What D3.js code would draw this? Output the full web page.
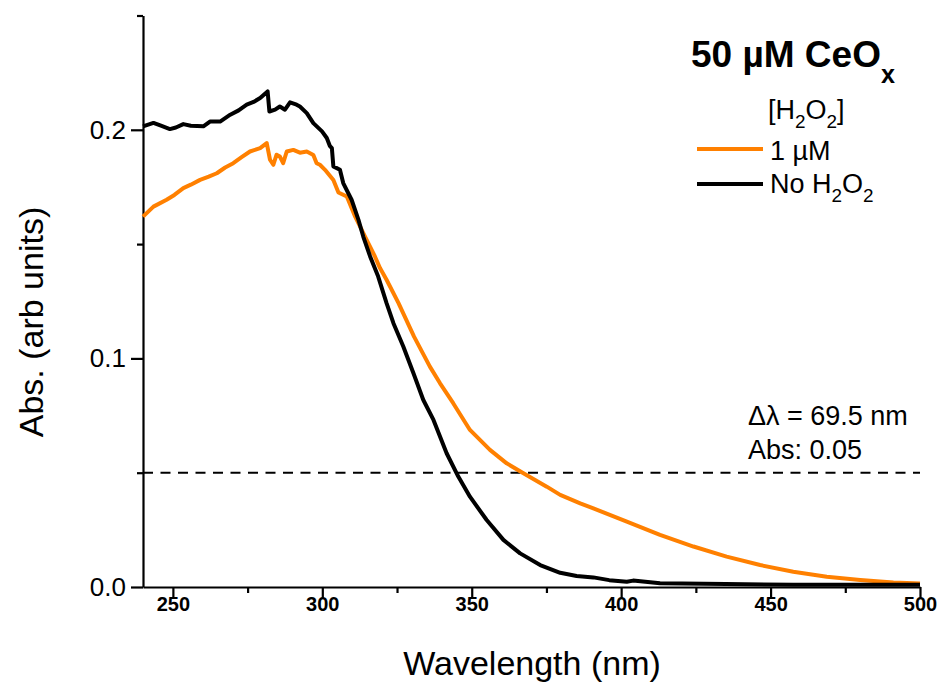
<!DOCTYPE html>
<html lang="en">
<head>
  <meta charset="UTF-8" />
  <title>Abs spectra CeOx</title>
  <script src="https://d3js.org/d3.v7.min.js"></script>
  <style>
    body { margin:0; padding:0; background:#fff; }
    svg { display:block; font-family:"Liberation Sans", Arial, sans-serif; }
    .axis path, .axis line { stroke:#000; stroke-width:2.2px; }
  </style>
</head>
<body>
  <svg width="941" height="684"></svg>

  <script>
  // data: [wavelength (nm), absorbance]
  const noH2O2 = [
    [240,0.2015],[243.5,0.203],[246,0.2018],[249,0.2003],[251,0.201],[253.5,0.2025],
    [256,0.2018],[260.2,0.2015],[262.4,0.2036],[265.8,0.2036],[269.2,0.2066],[272,0.2085],
    [274.7,0.211],[277,0.2122],[279.2,0.2139],[281.7,0.2168],[282.3,0.208],[284.2,0.2088],
    [285.8,0.2102],[287.5,0.2088],[289.2,0.212],[291.4,0.211],[292.5,0.2102],[294.8,0.2073],
    [297,0.2029],[299.9,0.1993],[301.5,0.1964],[302.5,0.193],[303.2,0.192],[303.7,0.184],
    [305.9,0.1825],[307,0.1767],[309.8,0.1694],[312.1,0.1606],[313.7,0.1533],[316,0.1446],
    [318.7,0.1358],[321.5,0.1242],[323.8,0.1154],[327.1,0.1052],[330.5,0.0935],[333.8,0.0818],
    [337.2,0.0731],[341.6,0.0585],[345.5,0.0483],[349.4,0.0395],[355,0.0293],[360.6,0.0206],
    [366.2,0.0147],[372.9,0.0096],[379.6,0.0062],[385.1,0.0048],[390.7,0.0042],[396,0.003],
    [401.9,0.0023],[404,0.0028],[413,0.0016],[435,0.0013],[457.6,0.001],[480,0.001],[500,0.001]
  ];
  const oneMicroM = [
    [240,0.162],[243.5,0.1664],[247.9,0.1694],[250.5,0.1715],[253.5,0.1745],[256,0.176],
    [259.1,0.1781],[262,0.1795],[264.7,0.181],[267.5,0.1835],[270.2,0.1854],[273,0.188],
    [275.8,0.1905],[279.2,0.192],[281.4,0.1942],[282.5,0.1869],[283.6,0.1847],[284.7,0.1891],
    [285.8,0.1883],[286.9,0.1854],[288.1,0.1905],[290.3,0.1912],[292.5,0.19],[294.8,0.1905],
    [297,0.189],[298.1,0.1854],[299.2,0.1847],[300.9,0.1825],[303.7,0.178],[305.4,0.1726],
    [308.2,0.1708],[311,0.162],[314.3,0.1533],[317.6,0.1446],[319.3,0.1395],[321.5,0.1344],
    [325.5,0.1242],[330.7,0.1095],[336,0.0964],[339.4,0.0891],[343.8,0.0804],[349.4,0.0687],
    [356.1,0.06],[361.7,0.0541],[367.3,0.0498],[375.1,0.0439],[379.6,0.0403],[386.3,0.0366],
    [390.7,0.0344],[401.9,0.0286],[413,0.0228],[424.2,0.0177],[435.3,0.0133],[446.5,0.0096],
    [457.6,0.0067],[468.8,0.0045],[480,0.0031],[491.1,0.002],[500,0.0015]
  ];
  const xMajor = [250,300,350,400,450,500];
  const xMinor = [275,325,375,425,475];
  const yMajor = [0,0.1,0.2];
  const yMinor = [0.05,0.15,0.25];
  const absLevel = 0.05;

  const svg = d3.select("svg");
  const x = d3.scaleLinear().domain([240,500]).range([143,920]);
  const y = d3.scaleLinear().domain([0,0.25]).range([587,15.5]);

  // axes: major + minor ticks, no outer ticks
  function drawAxis(axisFn, scale, major, minor, tx, ty, fmt){
    const gMin = svg.append("g").attr("class","axis").attr("transform",`translate(${tx},${ty})`)
      .call(axisFn(scale).tickValues(minor).tickSize(6).tickSizeOuter(0).tickFormat(""));
    gMin.select(".domain").remove();
    return svg.append("g").attr("class","axis").attr("transform",`translate(${tx},${ty})`)
      .call(axisFn(scale).tickValues(major).tickSize(12).tickSizeOuter(0).tickFormat(fmt));
  }
  const gx = drawAxis(d3.axisBottom, x, xMajor, xMinor, 0, 587, d3.format("d"));
  gx.selectAll("text").attr("y",24).attr("dy",0).attr("dominant-baseline","auto")
    .attr("font-size",20).attr("font-weight","bold").attr("font-family",null);
  const gy = drawAxis(d3.axisLeft, y, yMajor, yMinor, 143, 0, d3.format(".1f"));
  gy.selectAll("text").attr("x",-17).attr("font-size",26).attr("font-family",null);

  // dashed level line
  svg.append("line")
    .attr("x1",x(240)).attr("x2",x(500)).attr("y1",y(absLevel)).attr("y2",y(absLevel))
    .attr("stroke","#000").attr("stroke-width",2).attr("stroke-dasharray","10,7.5");

  const line = d3.line().x(d=>x(d[0])).y(d=>y(d[1]));
  svg.append("path").datum(oneMicroM).attr("d",line)
    .attr("fill","none").attr("stroke","#ff8000").attr("stroke-width",4).attr("stroke-linejoin","round");
  svg.append("path").datum(noH2O2).attr("d",line)
    .attr("fill","none").attr("stroke","#000").attr("stroke-width",4).attr("stroke-linejoin","round");

  // text with subscripts
  function richText(px, py, parts, size, opts={}){
    const t = svg.append("text").attr("x",px).attr("y",py).attr("font-size",size)
      .attr("font-weight",opts.bold ? "bold" : null);
    const subDy = size*(opts.subDy||0.33);
    let down = false;
    parts.forEach(p=>{
      const sub = typeof p !== "string";
      const ts = t.append("tspan").text(sub ? p.sub : p);
      if (sub && !down){ ts.attr("dy", subDy).attr("font-size", size*(opts.subScale||0.7)); down = true; }
      else if (sub){ ts.attr("font-size", size*(opts.subScale||0.7)); }
      else if (down){ ts.attr("dy", -subDy); down = false; }
    });
    return t;
  }

  richText(691, 67, ["50 µM CeO",{sub:"x"}], 37, {bold:true, subDy:0.42, subScale:0.68});
  richText(768, 119, ["[H",{sub:"2"},"O",{sub:"2"},"]"], 27);
  richText(770, 160, ["1 µM"], 27);
  richText(770, 193, ["No H",{sub:"2"},"O",{sub:"2"}], 27);
  svg.append("line").attr("x1",697).attr("x2",763).attr("y1",149).attr("y2",149)
    .attr("stroke","#ff8000").attr("stroke-width",4);
  svg.append("line").attr("x1",697).attr("x2",763).attr("y1",184).attr("y2",184)
    .attr("stroke","#000").attr("stroke-width",4);

  richText(748, 425, ["Δλ = 69.5 nm"], 27);
  richText(748, 459, ["Abs: 0.05"], 27);

  // axis titles
  svg.append("text").attr("x",532).attr("y",675).attr("text-anchor","middle")
    .attr("font-size",34).text("Wavelength (nm)");
  svg.append("text").attr("transform","translate(43,322) rotate(-90)").attr("text-anchor","middle")
    .attr("font-size",34).text("Abs. (arb units)");
  </script>
</body>
</html>
